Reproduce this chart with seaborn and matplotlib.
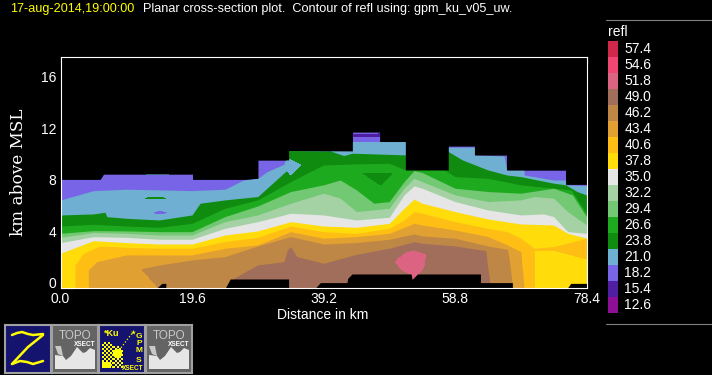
"""
Planar cross-section of reflectivity (GPM Ku), black CIDD style display.
"""

import matplotlib.pyplot as plt
import numpy as np
import seaborn as sns
from matplotlib.colors import ListedColormap

# Colour bar levels and colours, top to bottom
LEVELS = [57.4, 54.6, 51.8, 49.0, 46.2, 43.4, 40.6, 37.8, 35.0, 32.2, 29.4, 26.6, 23.8, 21.0, 18.2, 15.4, 12.6]
COLORS = ['#D0284B', '#F04672', '#DC6482', '#A06E5A', '#BE8746', '#E1A032', '#FFBE14', '#FFDC0A', '#E6E6E6',
          '#A5D2A5', '#73C873', '#1EAA1E', '#0F8C0F', '#6EAFD2', '#7864E6', '#501EA0', '#8C0F96']

X_TICKS = [0.0, 9.8, 19.6, 29.4, 39.2, 49.0, 58.8, 68.6, 78.4]
X_LABELS = ['0.0', '', '19.6', '', '39.2', '', '58.8', '', '78.4']
Y_TICKS = [0, 2, 4, 6, 8, 10, 12, 14, 16]
Y_LABELS = ['0', '', '4', '', '8', '', '12', '', '16']

# Upper edge of each contour band: distance [km], height [km]
TOP_18_X = [0, 5.9, 6.4, 19.7, 19.7, 27.5, 29.4, 29.4, 34, 34, 43.5, 43.5, 47.6, 47.6, 51.4, 51.4, 57.8, 57.8, 61.7,
            61.7, 66.5, 66.5, 75.3, 75.3, 78.4]
TOP_18_Y = [8.46, 8.46, 8.87, 8.87, 8.46, 8.46, 8.53, 9.96, 9.96, 10.69, 10.66, 12.14, 12.14, 11.39, 11.39, 9.18,
            9.18, 11.05, 11.05, 10.35, 10.35, 9.18, 9.18, 8.07, 8.07]
TOP_21_X = [0, 4.9, 9.8, 14.7, 19.6, 24.5, 27.3, 29.4, 30.8, 33.3, 33.5, 33.8, 34, 40.2, 43.5, 51.4, 57.8, 61.7, 61.7,
            66.1, 66.5, 69.1, 69.1, 73.5, 75.3, 75.3, 78.4]
TOP_21_Y = [6.85, 7.57, 7.68, 7.63, 7.57, 7.68, 8.4, 8.53, 9.05, 9.62, 9.96, 9.96, 10.69, 10.66, 11.39, 11.39, 10.95,
            10.95, 10.35, 10.27, 9.18, 9.18, 8.79, 8.4, 8.4, 8.02, 7.96]
TOP_24_X = [0, 4.9, 6.64, 6.9, 9.8, 14.7, 19.6, 20.8, 24.5, 29.4, 33.8, 34, 39.2, 40.2, 42.2, 43.5, 51.4, 57.8, 59.9,
            63.7, 66.5, 68.6, 73.5, 75.3, 77, 78.4]
TOP_24_Y = [5.68, 5.76, 5.89, 5.55, 5.42, 5.29, 5.68, 6.59, 6.85, 7.11, 9.18, 10.69, 10.66, 10.66, 10.3, 10.48, 10.35,
            10.61, 9.96, 9.18, 8.79, 8.66, 8.15, 8.02, 7.5, 7.24]
TOP_27_X = [0, 4.9, 9.8, 14.7, 19.6, 24.5, 29.4, 34.3, 39.2, 44.1, 49, 51.4, 57.2, 58.8, 63.7, 68.6, 73.5, 76.1, 78.4]
TOP_27_Y = [4.82, 4.95, 4.82, 4.72, 5.03, 6.2, 6.85, 8.27, 9.57, 9.65, 9.7, 9.18, 9.18, 8.66, 8.53, 8.02, 7.76, 7.63,
            5.81]
TOP_29_X = [0, 4.9, 9.8, 14.7, 19.6, 24.5, 29.4, 34.3, 39.2, 41.7, 44.1, 46.7, 49, 51.2, 52.7, 53.9, 58.8, 63.7, 68.6,
            73.5, 76.3, 78.4]
TOP_29_Y = [4.25, 4.46, 4.44, 4.38, 4.38, 5.55, 6.38, 7.5, 8.02, 8.4, 7.63, 6.59, 6.72, 8.27, 9.13, 8.98, 7.76, 7.5,
            7.37, 7.76, 7.24, 5.55]
TOP_32_X = [0, 4.9, 9.8, 14.7, 19.6, 24.5, 29.4, 34.3, 39.2, 41.7, 44.1, 49, 51.2, 52.7, 53.9, 58.8, 63.7, 68.6, 70.6,
            73.5, 75.6, 78.4]
TOP_32_Y = [3.94, 4.31, 4.25, 4.12, 4.12, 5.16, 5.68, 6.59, 7.37, 6.98, 5.94, 6.2, 7.76, 8.53, 8.27, 7.24, 6.72, 6.85,
            7.11, 6.98, 5.94, 4.9]
TOP_35_X = [0, 4.9, 9.8, 14.7, 19.6, 24.5, 29.4, 34.3, 39.2, 44.1, 49, 51.2, 52.7, 53.9, 58.8, 63.7, 68.6, 72, 73.5,
            75.6, 78.4]
TOP_35_Y = [3.53, 3.99, 3.94, 3.79, 3.79, 4.64, 5.16, 5.81, 5.68, 5.29, 5.5, 7.24, 7.94, 7.76, 6.72, 6.07, 5.68, 5.76,
            5.55, 4.38, 4.25]
TOP_38_X = [0, 4.9, 9.8, 14.7, 19.6, 24.5, 29.4, 34.3, 39.2, 44.1, 49, 51.2, 52.7, 53.9, 58.8, 63.7, 68.6, 73.5, 75.6,
            78.4]
TOP_38_Y = [2.7, 3.68, 3.53, 3.42, 3.42, 4.12, 4.44, 5.16, 4.82, 4.72, 5.03, 6.2, 6.92, 6.59, 5.94, 5.37, 4.98, 4.9,
            4.25, 3.87]
TOP_41_X = [2.16, 2.16, 3.41, 5.9, 9.8, 14.7, 19.6, 24.5, 29.4, 34.3, 39.2, 44.1, 49, 51.2, 52.7, 53.9, 58.8, 63.7,
            66.6, 68.6, 70.6, 73.5, 78.4]
TOP_41_Y = [0, 1.79, 2.7, 3.27, 3.16, 3.09, 3.09, 3.61, 3.94, 4.82, 4.38, 4.25, 4.64, 5.29, 5.94, 5.81, 5.16, 4.64,
            4.38, 3.87, 3.09, 3.22, 3.87]
TOP_43_X = [4.15, 4.15, 5.4, 9.8, 14.7, 19.6, 24.5, 29.4, 34.3, 39.2, 44.1, 49, 52.7, 53.9, 58.8, 63.7, 66.6, 68.6,
            69.1]
TOP_43_Y = [0, 1.4, 2.05, 2.57, 2.57, 2.57, 3.09, 3.35, 4.38, 3.87, 4.0, 4.25, 5.03, 4.9, 4.51, 4.0, 3.35, 2.83, 0]
TOP_46_X = [11.87, 14.7, 19.6, 24.5, 29.4, 34.3, 39.2, 44.1, 49, 52.7, 53.9, 58.8, 63.7, 66.6, 66.9, 67.4]
TOP_46_Y = [1.48, 1.79, 2.18, 2.44, 3.27, 4.0, 3.42, 3.53, 3.79, 4.2, 4.05, 3.87, 3.27, 3.0, 2.2, 0]
TOP_49_X = [25.3, 25.8, 29.4, 33.3, 33.8, 34.3, 35.2, 39.2, 44.1, 49, 52.7, 53.9, 58.8, 63.4, 63.6, 64.1]
TOP_49_Y = [0, 0.75, 1.8, 2.05, 2.96, 3.22, 2.45, 1.92, 2.62, 3.09, 3.6, 3.48, 3.27, 2.9, 1.92, 0]

# Closed cells that break the layering: outline distance [km], height [km]
CELL_52_X = [49.93, 51.42, 52.66, 54.4, 54.15, 53.4, 52.41, 52.26, 50.92]
CELL_52_Y = [2.05, 2.7, 2.88, 2.57, 1.66, 1.14, 0.67, 1.09, 1.4]
CELL_38_X = [70.82, 73.55, 78.38, 78.38, 70.82]
CELL_38_Y = [2.83, 2.83, 2.18, 0, 0]
CELL_43_X = [11.87, 14.36, 11.87]
CELL_43_Y = [1.48, 0, 0]
CELL_21A_X = [33.8, 34.25, 35.75, 34.25, 33.8]
CELL_21A_Y = [9.96, 9.96, 9.58, 8.79, 9.18]
CELL_21B_X = [12.76, 16.1, 16.1, 12.76]
CELL_21B_Y = [8.8, 8.8, 8.87, 8.87]
CELL_24A_X = [12.6, 14.35, 15.7, 14.35]
CELL_24A_Y = [6.98, 7.06, 6.98, 6.93]
CELL_24B_X = [45.2, 49.4, 47.7, 46.2]
CELL_24B_Y = [8.92, 8.92, 8.02, 8.53]
CELL_18_X = [13.95, 14.85, 15.85, 14.85]
CELL_18_Y = [5.86, 5.94, 5.86, 5.76]
CELL_15_X = [43.5, 45.4, 47.6, 47.6, 43.7]
CELL_15_Y = [11.9, 11.9, 11.98, 11.8, 11.75]

# Missing data next to the ground: distance [km], top of the gap [km]
GAP_A_X = [14.36, 15.1, 15.7, 15.7]
GAP_A_Y = [0, 0.36, 0.36, 0]
GAP_B_X = [24.55, 25.3, 34.0, 34.0]
GAP_B_Y = [0, 0.7, 0.7, 0]
GAP_C_X = [37.98, 38.73, 42.7, 42.8, 43.45, 52.26, 52.41, 53.2, 62.6, 62.6, 67.35, 67.35]
GAP_C_Y = [0, 0.42, 0.42, 0.75, 1.09, 1.09, 0.67, 1.09, 1.09, 0.42, 0.42, 0]
GAP_D_X = [75.55, 76.05, 78.4]
GAP_D_Y = [0, 0.36, 0.36]

BANDS = [(TOP_18_X, TOP_18_Y, 18.2), (TOP_21_X, TOP_21_Y, 21.0), (TOP_24_X, TOP_24_Y, 23.8),
         (TOP_27_X, TOP_27_Y, 26.6), (TOP_29_X, TOP_29_Y, 29.4), (TOP_32_X, TOP_32_Y, 32.2),
         (TOP_35_X, TOP_35_Y, 35.0), (TOP_38_X, TOP_38_Y, 37.8), (TOP_41_X, TOP_41_Y, 40.6),
         (TOP_43_X, TOP_43_Y, 43.4), (TOP_46_X, TOP_46_Y, 46.2), (TOP_49_X, TOP_49_Y, 49.0)]
CELLS = [(CELL_52_X, CELL_52_Y, 51.8), (CELL_38_X, CELL_38_Y, 37.8), (CELL_43_X, CELL_43_Y, 43.4),
         (CELL_21A_X, CELL_21A_Y, 21.0), (CELL_21B_X, CELL_21B_Y, 21.0), (CELL_24A_X, CELL_24A_Y, 23.8),
         (CELL_24B_X, CELL_24B_Y, 23.8), (CELL_18_X, CELL_18_Y, 18.2), (CELL_15_X, CELL_15_Y, 15.4)]

W, H = 712, 375
FG = 'white'
NAVY = '#14146E'
YELLOW = '#FFFF00'


def px_axes(left, top, right, bottom):
    # Axes placed by pixel edges, measured from the top left of the figure
    return fig.add_axes([left / W, 1 - bottom / H, (right - left) / W, (bottom - top) / H])


def px_text(x, y, text, **kwargs):
    fig.text(x / W, 1 - y / H, text, va='center', **kwargs)


def icon_axes(left, color):
    ax = px_axes(left, 325, left + 46, 373)
    ax.set_facecolor(color)
    ax.set_xlim(0, 46)
    ax.set_ylim(48, 0)
    ax.set_xticks([])
    ax.set_yticks([])
    for spine in ax.spines.values():
        spine.set_color('#A0A0A0')
        spine.set_linewidth(1.5)
        spine.set_visible(True)
    return ax


def draw_z_icon(left):
    ax = icon_axes(left, NAVY)
    ax.plot([7, 12, 17, 23, 28, 38], [10, 8, 7, 9, 10, 9], color=YELLOW, lw=1.8)
    ax.plot([38, 23, 7], [10, 22, 39], color=YELLOW, lw=1.8)
    ax.plot([7, 15, 22, 28, 38], [39, 36, 37, 39, 36], color=YELLOW, lw=1.8)


def draw_topo_icon(left):
    ax = icon_axes(left, '#646464')
    ax.fill([3, 3, 11, 14, 19, 25, 31, 34, 38, 43, 43], [44, 30, 31, 35, 31, 22, 28, 27, 23, 25, 44],
            color='#E6E6E6', lw=0)
    ax.fill([3, 9, 11, 6], [21, 21, 31, 29], color='#C8C8C8', lw=0)
    ax.text(23, 11, 'TOPO', color='#C8C8C8', fontsize=8.4, ha='center', va='center')
    ax.text(44, 19.5, 'XSECT', color='white', fontsize=4.7, fontweight='bold', ha='right', va='center')


def draw_radar_icon(left):
    ax = icon_axes(left, NAVY)
    # Checkered earth disc in the lower left corner
    rows, cols = np.indices((13, 10))
    checker = (rows + cols) % 2
    outside = np.hypot(cols * 2, (12 - rows) * 2) > 25
    checker = np.ma.masked_where((checker == 0) | outside, checker)
    ax.imshow(checker, extent=(3, 23, 43, 17), cmap=ListedColormap([YELLOW]), aspect='auto', interpolation='nearest')
    ax.set_xlim(0, 46)
    ax.set_ylim(48, 0)
    ax.scatter([18], [28], s=45, color=YELLOW, lw=0)
    ax.fill([3, 12, 12, 3], [37, 37, 43, 43], color=YELLOW, lw=0)
    ax.plot([18, 34], [28, 7], color=YELLOW, lw=0.9, ls=':')
    ax.scatter([34], [7], s=14, color=YELLOW, marker='*', lw=0)
    ax.text(5, 9, '*Ku', color=YELLOW, fontsize=6.5, fontweight='bold', va='center')
    for y, letter in zip([11, 18.5, 25.5, 35], ['G', 'P', 'M', 'S']):
        ax.text(40, y, letter, color=YELLOW, fontsize=6, fontweight='bold', ha='center', va='center')
    ax.text(45, 43, 'XSECT', color=YELLOW, fontsize=4.7, fontweight='bold', ha='right', va='center')


sns.set_theme(style='dark', rc={
    'figure.facecolor': 'black', 'axes.facecolor': 'black', 'axes.edgecolor': FG, 'axes.linewidth': 0.8,
    'xtick.color': FG, 'ytick.color': FG, 'text.color': FG, 'axes.labelcolor': FG,
    'ytick.alignment': 'baseline',
})
plt.rcParams['font.family'] = ['Liberation Sans', 'DejaVu Sans']

palette = dict(zip(LEVELS, sns.color_palette(COLORS)))

fig = plt.figure(figsize=(W / 100, H / 100), dpi=100)

# Main cross-section
ax = px_axes(60.5, 56.5, 586.5, 288)
for band_x, band_y, level in BANDS:
    ax.fill_between(band_x, 0, band_y, color=palette[level], lw=0, antialiased=False)
for cell_x, cell_y, level in CELLS:
    ax.fill(cell_x, cell_y, color=palette[level], lw=0, antialiased=False)

# Nothing was measured above the echo top or inside the low level gaps
ax.fill_between(TOP_18_X, TOP_18_Y, 18, color='black', lw=0, antialiased=False)
for gap_x, gap_y in [(GAP_A_X, GAP_A_Y), (GAP_B_X, GAP_B_Y), (GAP_C_X, GAP_C_Y), (GAP_D_X, GAP_D_Y)]:
    ax.fill_between(gap_x, 0, gap_y, color='black', lw=0, antialiased=False)

ax.set_xlim(0, 78.4)
ax.set_ylim(0, 18)
ax.set_xticks(X_TICKS, X_LABELS, fontsize=10)
ax.set_yticks(Y_TICKS, Y_LABELS, fontsize=10)
ax.tick_params(axis='x', direction='in', length=4.5, width=0.8, top=True, bottom=True, pad=3)
ax.tick_params(axis='y', direction='in', length=9.4, width=0.8, left=True, right=True, pad=3)
ax.grid(False)
for spine in ax.spines.values():
    spine.set_visible(True)
    spine.set_zorder(5)

px_text(323, 315, 'Distance in km', ha='center', fontsize=10)
fig.text(19 / W, 1 - 172 / H, 'km above MSL', rotation=90, ha='center', va='center', family='DejaVu Serif',
         fontsize=12.2)

# Header line
px_text(10.5, 9, '17-aug-2014,19:00:00', color=YELLOW, fontsize=9.1)
px_text(143, 9, 'Planar cross-section plot.  Contour of refl using: gpm_ku_v05_uw.', fontsize=9.1)

# Colour bar
ax_bar = px_axes(608, 41, 618.3, 313)
sns.heatmap(np.array(LEVELS).reshape(-1, 1), ax=ax_bar, cmap=ListedColormap(COLORS[::-1]), vmin=12.6, vmax=57.4,
            cbar=False, xticklabels=False, yticklabels=[f'{level:.1f}' for level in LEVELS])
ax_bar.yaxis.tick_right()
ax_bar.tick_params(axis='y', length=0, pad=4.2, labelsize=10, labelrotation=0)
for label in ax_bar.get_yticklabels():
    label.set_verticalalignment('center')
px_text(608, 32, 'refl', fontsize=10)

# Grey rules above and below the colour bar
for rule_y in (19.5, 324):
    fig.add_artist(plt.Line2D([606 / W, 1], [1 - rule_y / H] * 2, color='#808080', lw=0.8))

# Button row
draw_z_icon(5)
draw_topo_icon(52)
draw_radar_icon(99)
draw_topo_icon(146)

fig.savefig('out.png', dpi=100)
